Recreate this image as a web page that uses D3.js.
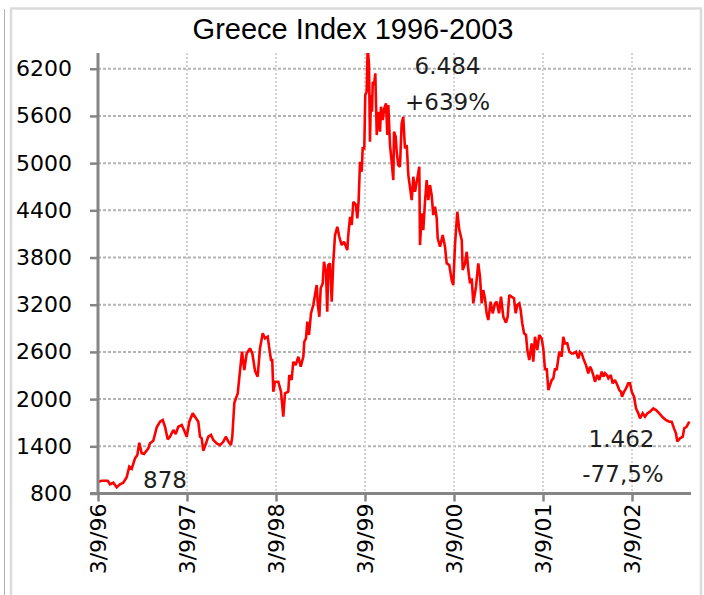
<!DOCTYPE html>
<html><head><meta charset="utf-8">
<script src="https://cdn.jsdelivr.net/npm/d3@7"></script>
<style>body{margin:0;background:#fff}svg{display:block}</style>
</head><body>
<script>
const title = "Greece Index 1996-2003";
// dates as decimal years (3/9/96 = 1996.674)
const dates = [
1996.677,1996.716,1996.783,1996.809,1996.846,1996.884,1996.921,1996.958,1996.996,1997.026,
1997.053,1997.090,1997.116,1997.138,1997.165,1997.191,1997.239,1997.258,1997.295,1997.334,
1997.371,1997.401,1997.427,1997.457,1997.483,1997.520,1997.547,1997.576,1997.615,1997.644,
1997.671,1997.700,1997.738,1997.764,1997.801,1997.820,1997.839,1997.857,1997.888,1997.913,
1997.944,1997.970,1998.008,1998.045,1998.082,1998.112,1998.138,1998.168,1998.183,1998.206,
1998.244,1998.262,1998.292,1998.318,1998.345,1998.382,1998.408,1998.438,1998.468,1998.494,
1998.525,1998.550,1998.581,1998.599,1998.618,1998.632,1998.644,1998.663,1998.700,1998.730,
1998.756,1998.775,1998.812,1998.823,1998.850,1998.868,1998.895,1998.925,1998.952,1998.981,
1998.992,1999.011,1999.026,1999.045,1999.067,1999.093,1999.112,1999.131,1999.143,1999.161,
1999.176,1999.199,1999.213,1999.236,1999.250,1999.262,1999.281,1999.300,1999.318,1999.337,
1999.363,1999.385,1999.412,1999.438,1999.461,1999.475,1999.486,1999.506,1999.525,1999.543,
1999.573,1999.588,1999.603,1999.618,1999.637,1999.648,1999.666,1999.677,1999.693,1999.704,
1999.719,1999.730,1999.741,1999.753,1999.761,1999.775,1999.790,1999.806,1999.823,1999.843,
1999.854,1999.873,1999.891,1999.910,1999.925,1999.936,1999.955,1999.974,1999.992,2000.000,
2000.019,2000.030,2000.048,2000.067,2000.086,2000.104,2000.123,2000.143,2000.161,2000.199,
2000.217,2000.236,2000.262,2000.284,2000.292,2000.311,2000.329,2000.348,2000.367,2000.385,
2000.404,2000.423,2000.441,2000.461,2000.480,2000.491,2000.517,2000.547,2000.573,2000.592,
2000.621,2000.648,2000.666,2000.685,2000.711,2000.734,2000.761,2000.772,2000.798,2000.817,
2000.835,2000.854,2000.873,2000.891,2000.921,2000.947,2000.966,2000.985,2001.003,2001.022,
2001.041,2001.059,2001.086,2001.109,2001.135,2001.154,2001.180,2001.202,2001.228,2001.258,
2001.277,2001.295,2001.322,2001.348,2001.367,2001.385,2001.408,2001.423,2001.441,2001.461,
2001.483,2001.498,2001.520,2001.547,2001.565,2001.584,2001.610,2001.632,2001.659,2001.677,
2001.697,2001.716,2001.734,2001.772,2001.790,2001.809,2001.828,2001.857,2001.884,2001.902,
2001.921,2001.947,2001.970,2001.997,2002.014,2002.045,2002.071,2002.090,2002.109,2002.127,
2002.157,2002.183,2002.202,2002.221,2002.239,2002.258,2002.284,2002.307,2002.334,2002.352,
2002.371,2002.390,2002.408,2002.435,2002.457,2002.483,2002.509,2002.531,2002.550,2002.562,
2002.584,2002.607,2002.632,2002.652,2002.671,2002.697,2002.719,2002.745,2002.764,2002.794,
2002.820,2002.846,2002.876,2002.913,2002.944,2002.981,2003.019,2003.056,2003.093,2003.120,
2003.146,2003.168,2003.183,2003.213,2003.244,2003.261,2003.288,2003.318
];
const values = [
950,963,963,917,937,878,917,937,1006,1141,
1115,1247,1289,1446,1311,1302,1374,1438,1471,1641,
1713,1734,1649,1489,1522,1607,1556,1649,1671,1598,
1522,1713,1819,1776,1713,1522,1501,1344,1438,1522,
1544,1480,1438,1416,1459,1522,1459,1416,1522,1954,
2073,2277,2602,2370,2582,2645,2580,2361,2285,2645,
2836,2772,2793,2645,2497,2497,2094,2221,2221,2094,
1776,2073,2094,2306,2243,2475,2433,2539,2412,2539,
2729,2772,2984,2815,3090,3196,3323,3450,3217,3047,
3408,3471,3746,3619,3111,3704,3726,3238,3746,4085,
4191,4064,3958,4000,3937,3895,4085,4318,4213,4509,
4467,4298,4530,5017,4890,5187,5187,5865,5907,6484,
6246,5272,5865,5653,6034,5992,6141,5357,5653,5399,
5717,5548,5696,5760,5357,5738,5230,5017,4785,5399,
5335,5144,4975,4954,5505,5590,5187,5230,4848,4530,
4827,4636,4806,4954,3958,4361,4149,4509,4785,4530,
4721,4594,4340,4445,4298,4043,3937,4085,3937,3726,
3704,3513,3450,3958,4382,4149,4022,3641,3726,3873,
3641,3471,3535,3217,3429,3726,3556,3217,3386,3281,
3090,3005,3238,3090,3217,3238,3090,3301,3047,2971,
3047,3323,3301,3281,3090,3196,3217,3132,2964,2836,
2815,2624,2497,2709,2475,2793,2624,2815,2772,2645,
2370,2390,2115,2243,2264,2391,2370,2602,2539,2793,
2709,2709,2602,2581,2580,2602,2518,2600,2581,2518,
2433,2328,2412,2370,2306,2221,2306,2243,2348,2285,
2328,2306,2264,2306,2200,2243,2179,2115,2094,2030,
2094,2137,2200,2200,2094,2030,1883,1819,1756,1819,
1776,1819,1840,1883,1861,1819,1768,1734,1713,1713,
1628,1565,1462,1501,1522,1628,1649,1713
];
const yTickValues = [800,1400,2000,2600,3200,3800,4400,5000,5600,6200];
const xTickValues = [1996.674,1997.674,1998.674,1999.674,2000.674,2001.674,2002.674];
const xTickLabels = ["3/9/96","3/9/97","3/9/98","3/9/99","3/9/00","3/9/01","3/9/02"];
const yDomain = [800, 6400];
const xDomain = [1996.674, 2003.337];
const noteTexts = ["6.484", "+639%", "878", "1.462", "-77,5%"];

const W = 704, H = 595;
const L = 98, R = 691, T = 53, B = 493.5;
const FONT = "'DejaVu Sans', Verdana, sans-serif";

const svg = d3.select("body").append("svg").attr("width", W).attr("height", H);
svg.append("rect").attr("width", W).attr("height", H).attr("fill", "#fff");

// outer frames
svg.append("line").attr("x1", 4.5).attr("x2", 4.5).attr("y1", 9).attr("y2", H)
  .attr("stroke", "#b8b0b0").attr("stroke-width", 1);
svg.append("rect").attr("x", 11).attr("y", 8.5).attr("width", 690).attr("height", 600)
  .attr("fill", "none").attr("stroke", "#dadada").attr("stroke-width", 2.5);

const x = d3.scaleLinear().domain(xDomain).range([L, R]);
const y = d3.scaleLinear().domain(yDomain).range([B, T]);

// grid
svg.append("g").selectAll("line").data(yTickValues.filter(v => v !== yDomain[0])).join("line")
  .attr("x1", L).attr("x2", R).attr("y1", d => y(d)).attr("y2", d => y(d))
  .attr("stroke", "#b4b4b4").attr("stroke-width", 2).attr("stroke-dasharray", "3,2");
svg.append("g").selectAll("line").data(xTickValues.slice(1)).join("line")
  .attr("x1", d => x(d)).attr("x2", d => x(d)).attr("y1", T).attr("y2", B)
  .attr("stroke", "#d2d2d2").attr("stroke-width", 2).attr("stroke-dasharray", "2,2");

// line
svg.append("clipPath").attr("id", "clip").append("rect")
  .attr("x", L).attr("y", T).attr("width", R - L).attr("height", B - T);
const pts = dates.map((d, i) => [d, values[i]]);
svg.append("path").datum(pts).attr("clip-path", "url(#clip)")
  .attr("fill", "none").attr("stroke", "#ff0000").attr("stroke-width", 2.6)
  .attr("stroke-linejoin", "miter").attr("stroke-miterlimit", 2)
  .attr("d", d3.line().x(d => x(d[0])).y(d => y(d[1])));

// axes
const yAxis = svg.append("g").attr("transform", `translate(${L},0)`)
  .call(d3.axisLeft(y).tickValues(yTickValues).tickSize(8).tickSizeOuter(0).tickPadding(18).tickFormat(d3.format("d")));
const xAxis = svg.append("g").attr("transform", `translate(0,${B})`)
  .call(d3.axisBottom(x).tickValues(xTickValues).tickSize(8).tickSizeOuter(0)
    .tickFormat((d, i) => xTickLabels[i]));
[yAxis, xAxis].forEach(g => {
  g.select(".domain").attr("stroke", "#858585").attr("stroke-width", 3);
  g.selectAll(".tick line").attr("stroke", "#858585").attr("stroke-width", 2.5);
  g.selectAll("text").attr("fill", "#000").style("font-family", FONT).style("font-size", "22px");
});
yAxis.select(".domain").attr("d", `M0,${T}V${B + 1.5}`);
xAxis.select(".domain").attr("d", `M${L - 8},0H${R}`);
xAxis.selectAll(".tick text").attr("transform", "rotate(-90)")
  .attr("x", -10).attr("y", 0).attr("dy", "0.36em").style("text-anchor", "end");

// title
svg.append("text").attr("x", 353).attr("y", 39).attr("text-anchor", "middle")
  .style("font-family", "'Liberation Sans', Arial, sans-serif").style("font-size", "29px")
  .attr("fill", "#000").text(title);

// annotations
const notePos = [[447.5, 74], [447.5, 110], [165, 488], [621.5, 447], [623, 482]];
svg.append("g").selectAll("text").data(noteTexts).join("text")
  .attr("x", (d, i) => notePos[i][0]).attr("y", (d, i) => notePos[i][1])
  .attr("text-anchor", "middle").style("font-family", FONT).style("font-size", "23px")
  .attr("fill", "#1e1e1e").text(d => d);
</script>
</body></html>
